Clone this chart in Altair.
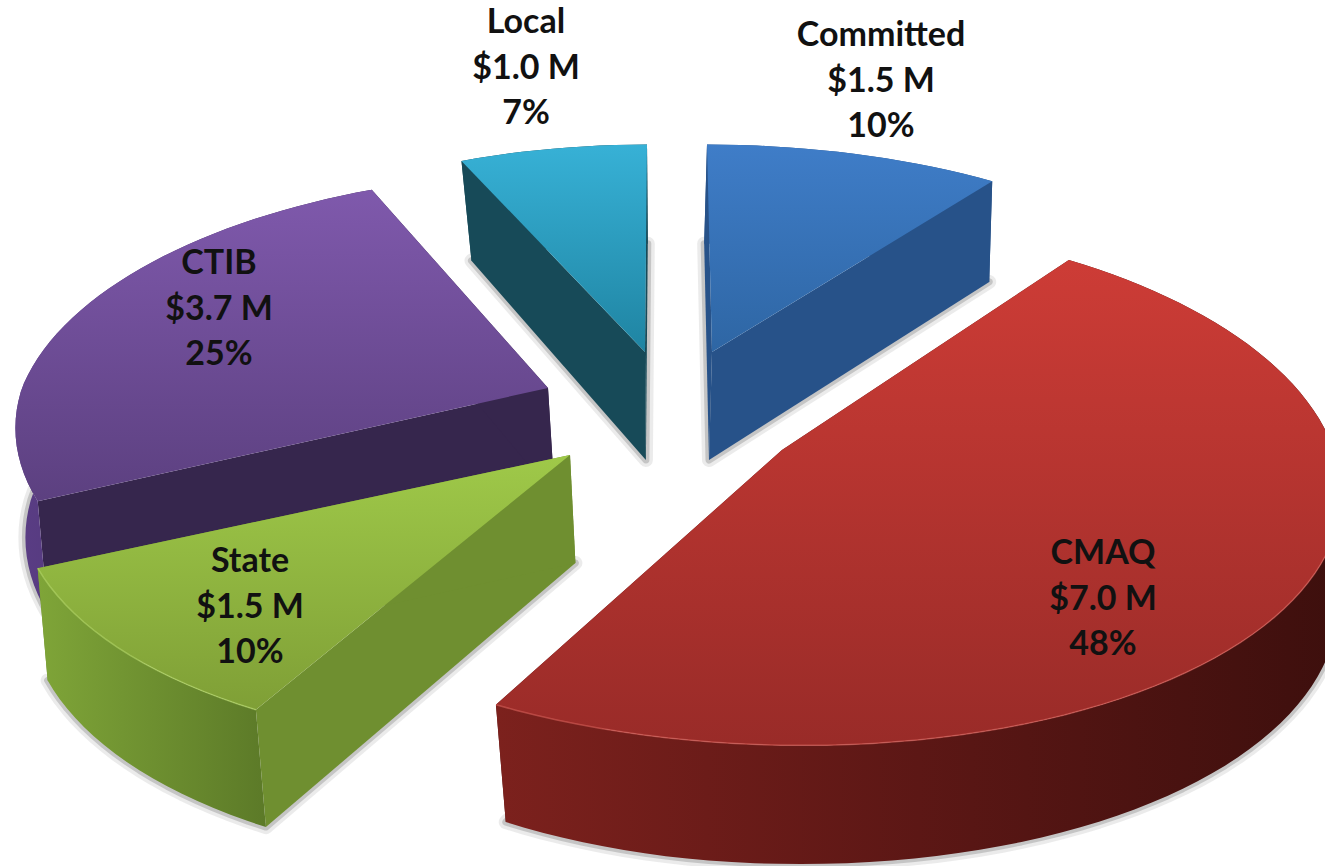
import math
import altair as alt

# Funding sources, clockwise from twelve o'clock
names = ["Committed", "CMAQ", "State", "CTIB", "Local"]
amounts = [1.5, 7.0, 1.5, 3.7, 1.0]

# Tip of each exploded wedge on the canvas and its radii
tip_x = {"Committed": 712, "CMAQ": 782, "State": 570, "CTIB": 548, "Local": 645}
tip_y = {"Committed": 352, "CMAQ": 450, "State": 455, "CTIB": 388, "Local": 352}
radius_x = {"Committed": 535, "CMAQ": 552, "State": 545, "CTIB": 526, "Local": 511}
radius_back = {"Committed": 240, "CMAQ": 267, "State": 249, "CTIB": 249, "Local": 240}
radius_front = 249

# Sideways lean of the far and near parts of each wedge
lean_back = {"Committed": 5, "CMAQ": 8, "State": 0, "CTIB": -16, "Local": -2}
lean_front = {"Committed": 0, "CMAQ": 21, "State": -20, "CTIB": 0, "Local": 0}

# Label anchors (first text row)
label_x = {"Committed": 881, "CMAQ": 1103, "State": 250, "CTIB": 219, "Local": 526}
label_y = {"Committed": 36, "CMAQ": 554, "State": 562, "CTIB": 264, "Local": 23}
row_gap = 45.5

# Fill ramps: top face, cut face, outer wall
top_ramp = {
    "Committed": ["#3f7dc8", "#2e66a4"],
    "CMAQ": ["#cd3c36", "#992b28"],
    "State": ["#9fc949", "#7f9f36"],
    "CTIB": ["#7f59ac", "#5c4080"],
    "Local": ["#37b1d6", "#1f84a2"],
}
cut_color = {"Committed": "#275289", "CMAQ": "#5a1715", "State": "#6f8f30",
             "CTIB": "#36264d", "Local": "#174a58"}
wall_ramp = {
    "Committed": ["#275289", "#275289"],
    "CMAQ": ["#7c211d", "#5c1715", "#3d0f0d"],
    "State": ["#7fa538", "#5c7a28"],
    "CTIB": ["#5a3d85", "#3a2955"],
    "Local": ["#174a58", "#174a58"],
}
edge_color = {"CMAQ": "#d8605a", "State": "#b5d96a"}

# Tilted-disc camera
PERSPECTIVE = 0.157
DEPTH = 108
DEPTH_PERSPECTIVE = 0.09
VANISH_X = 660

total = sum(amounts)


def rim(name, angle):
    """Canvas position of a rim point of a wedge's top face."""
    t = math.radians(angle)
    toward = -math.cos(t)
    s = 1 / (1 - PERSPECTIVE * toward)
    ry = radius_back[name] if toward < 0 else radius_front
    lean = lean_back[name] * toward if toward < 0 else lean_front[name] * toward * toward
    return [tip_x[name] + radius_x[name] * math.sin(t) * s + lean,
            tip_y[name] + ry * toward * s]


def drop(point, angle=None):
    """Same point moved down to the wedge's lower face."""
    toward = 0 if angle is None else -math.cos(math.radians(angle))
    d = DEPTH / (1 - DEPTH_PERSPECTIVE * toward)
    pinch = max(-3, min(10, (VANISH_X - point[0]) * 0.06))
    return [point[0] + pinch, point[1] + d]


def feature(ring):
    return {"type": "Feature", "properties": {},
            "geometry": {"type": "Polygon", "coordinates": [ring + [ring[0]]]}}


def ramp(colors, x1=0, y1=0, x2=0, y2=1):
    n = len(colors) - 1
    return alt.LinearGradient(
        gradient="linear", x1=x1, y1=y1, x2=x2, y2=y2,
        stops=[alt.GradientStop(offset=i / n, color=c) for i, c in enumerate(colors)],
    )


def shape(geo, **style):
    return alt.Chart(alt.Data(values=geo)).mark_geoshape(**style).project(
        type="identity", scale=1, translate=[0, 0])


# Angular extent of every wedge comes straight from its amount
spans = {}
running = 0.0
for name, amount in zip(names, amounts):
    spans[name] = (running, running + amount / total * 360)
    running += amount / total * 360

layers = []
for name in ["Local", "Committed", "CTIB", "State", "CMAQ"]:
    a0, a1 = spans[name]
    steps = max(8, int((a1 - a0) / 2))
    angles = [a0 + (a1 - a0) * i / steps for i in range(steps + 1)]
    arc = [rim(name, a) for a in angles]
    tip = [tip_x[name], tip_y[name]]
    arc_low = [drop(p, a) for p, a in zip(arc, angles)]
    tip_low = drop(tip)

    # Soft shadow hugging the lower face
    base = [feature([tip_low] + arc_low)]
    layers.append(shape(base, fillOpacity=0, stroke="#777777", strokeOpacity=0.15,
                        strokeWidth=14, strokeJoin="round"))
    layers.append(shape(base, fillOpacity=0, stroke="#666666", strokeOpacity=0.28,
                        strokeWidth=7, strokeJoin="round"))

    # Cut faces, outer wall, then the top face over them
    for end in (0, -1):
        layers.append(shape([feature([tip, arc[end], arc_low[end], tip_low])],
                            fill=cut_color[name], strokeWidth=0))
    layers.append(shape([feature(arc + arc_low[::-1])],
                        fill=ramp(wall_ramp[name], x2=1, y2=0), strokeWidth=0))
    layers.append(shape([feature([tip] + arc)],
                        fill=ramp(top_ramp[name]), strokeWidth=0))

    if name in edge_color:
        rim_line = {"type": "Feature", "properties": {},
                    "geometry": {"type": "LineString",
                                 "coordinates": [p for p, a in zip(arc, angles) if a > 95]}}
        layers.append(shape([rim_line], filled=False, stroke=edge_color[name],
                            strokeWidth=1.5, strokeOpacity=0.6))

# Three text rows per wedge: name, amount, share
rows = []
for name, amount in zip(names, amounts):
    texts = [name, f"${amount:.1f} M", f"{round(amount / total * 100)}%"]
    for i, text in enumerate(texts):
        rows.append({"x": label_x[name], "y": label_y[name] + i * row_gap, "t": text})

labels = alt.Chart(alt.Data(values=rows)).mark_text(
    font="Lato", fontWeight="bold", fontSize=34, color="#111111",
    align="center", baseline="middle",
).encode(longitude="x:Q", latitude="y:Q", text="t:N").project(
    type="identity", scale=1, translate=[0, 0])

chart = alt.layer(*layers, labels).properties(
    width=1325, height=866, padding=0, background="white",
    autosize=alt.AutoSizeParams(type="none"),
).configure_view(stroke=None)

chart.save("out.html", embed_options={"renderer": "svg", "actions": False})
